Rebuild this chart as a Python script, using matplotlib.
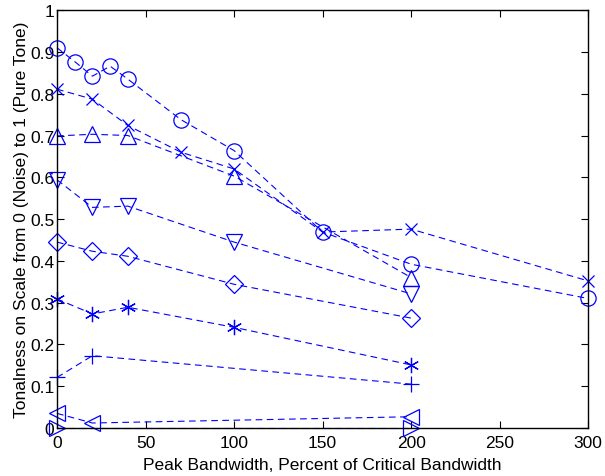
import numpy as np
import matplotlib.pyplot as plt

plt.rcParams['font.family'] = ['Liberation Sans', 'DejaVu Sans']

# Tonalness ratings vs. peak bandwidth, one series per condition
bw_circle = [0, 10, 20, 30, 40, 70, 100, 150, 200, 300]
ton_circle = [0.910, 0.877, 0.842, 0.866, 0.835, 0.738, 0.664, 0.469, 0.392, 0.310]

bw_x = [0, 20, 40, 70, 100, 150, 200, 300]
ton_x = [0.811, 0.787, 0.724, 0.660, 0.620, 0.469, 0.476, 0.352]

bw_five = [0, 20, 40, 100, 200]
ton_up = [0.699, 0.703, 0.700, 0.603, 0.360]
ton_down = [0.594, 0.528, 0.531, 0.445, 0.321]
ton_diamond = [0.445, 0.423, 0.411, 0.344, 0.263]
ton_star = [0.309, 0.273, 0.289, 0.241, 0.151]

bw_three = [0, 20, 200]
ton_plus = [0.121, 0.173, 0.105]
ton_left = [0.035, 0.012, 0.027]

bw_two = [0, 200]
ton_right = [0.0, 0.0]

fig = plt.figure(figsize=(6.05, 4.77), dpi=100)
ax = fig.add_axes([0.0942, 0.1006, 0.878, 0.876])

style = dict(color='blue', linestyle=(0, (6, 4)), linewidth=0.8,
             markerfacecolor='none', markeredgewidth=0.9, clip_on=False)

ax.plot(bw_circle, ton_circle, marker='o', markersize=11, **style)
ax.plot(bw_x, ton_x, marker='x', markersize=9, **style)
ax.plot(bw_five, ton_up, marker='^', markersize=12, **style)
ax.plot(bw_five, ton_down, marker='v', markersize=12, **style)
ax.plot(bw_five, ton_diamond, marker='D', markersize=9, **style)
ax.plot(bw_five, ton_star, marker=(6, 2, 0), markersize=11, **style)
ax.plot(bw_three, ton_plus, marker='+', markersize=12, **style)
ax.plot(bw_three, ton_left, marker='<', markersize=12, **style)
ax.plot(bw_two, ton_right, marker='>', markersize=12, **style)

ax.set_xlim(0, 300)
ax.set_ylim(0, 1)
ax.set_xticks(np.arange(0, 301, 50))
ax.set_yticks(np.arange(0, 1.01, 0.1))
ax.set_yticklabels(['0', '0.1', '0.2', '0.3', '0.4', '0.5', '0.6', '0.7', '0.8', '0.9', '1'])
ax.tick_params(direction='in', top=True, right=True, length=5, labelsize=12.5, pad=2)
ax.tick_params(axis='x', pad=5)
for s in ax.spines.values():
    s.set_linewidth(1.0)

ax.set_xlabel('Peak Bandwidth, Percent of Critical Bandwidth', fontsize=12.5, labelpad=5)
ax.set_ylabel('Tonalness on Scale from 0 (Noise) to 1 (Pure Tone)', fontsize=12.5, labelpad=1)

fig.savefig('out.png', dpi=100)
